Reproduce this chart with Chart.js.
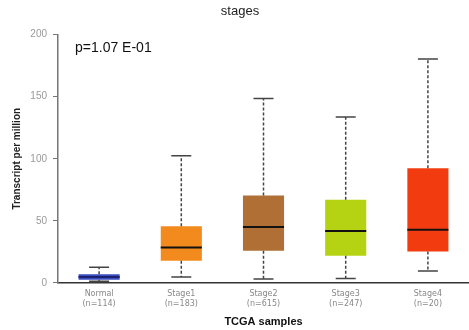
<!DOCTYPE html>
<html><head><meta charset="utf-8">
<script src="https://cdn.jsdelivr.net/npm/chart.js@4/dist/chart.umd.min.js"></script>
<style>html,body{margin:0;padding:0;background:#fff}#wrap{width:469px;height:330px;position:relative}</style>
</head><body><div id="wrap"><canvas id="c" width="469" height="330"></canvas></div>
<script>
const categories = [["Normal","(n=114)"],["Stage1","(n=183)"],["Stage2","(n=615)"],["Stage3","(n=247)"],["Stage4","(n=20)"]];
const whiskerLow = [1.2, 4.8, 3.2, 3.5, 9.6];
const q1 = [2.6, 17.8, 25.9, 21.9, 25.3];
const median = [4.8, 28.5, 45.0, 41.9, 42.9];
const q3 = [7.0, 45.6, 70.4, 67.0, 92.3];
const whiskerHigh = [12.6, 102.4, 148.5, 133.6, 180.3];
const boxColors = ["#3b4cc0", "#f28a1e", "#b06f35", "#b5d312", "#f23c10"];
const yTicks = [0, 50, 100, 150, 200];
const pLabel = "p=1.07 E-01";

const boxPlugin = {
  id: 'boxExtras',
  afterDatasetsDraw(chart) {
    const ctx = chart.ctx, y = chart.scales.y;
    const meta = chart.getDatasetMeta(0);
    ctx.save();
    categories.forEach((c, i) => {
      const bar = meta.data[i];
      const cx = bar.x, hw = bar.width / 2;
      ctx.strokeStyle = '#444'; ctx.lineWidth = 1.5; ctx.setLineDash([3, 2]);
      ctx.beginPath();
      ctx.moveTo(cx, y.getPixelForValue(q3[i])); ctx.lineTo(cx, y.getPixelForValue(whiskerHigh[i]));
      ctx.moveTo(cx, y.getPixelForValue(q1[i])); ctx.lineTo(cx, y.getPixelForValue(whiskerLow[i]));
      ctx.stroke();
      ctx.setLineDash([]);
      ctx.strokeStyle = '#444'; ctx.lineWidth = 1.6;
      ctx.beginPath();
      ctx.moveTo(cx - 10, y.getPixelForValue(whiskerHigh[i])); ctx.lineTo(cx + 10, y.getPixelForValue(whiskerHigh[i]));
      ctx.moveTo(cx - 10, y.getPixelForValue(whiskerLow[i])); ctx.lineTo(cx + 10, y.getPixelForValue(whiskerLow[i]));
      ctx.stroke();
      ctx.strokeStyle = i === 0 ? '#1a2270' : '#111'; ctx.lineWidth = 2;
      ctx.beginPath();
      ctx.moveTo(cx - hw, y.getPixelForValue(median[i])); ctx.lineTo(cx + hw, y.getPixelForValue(median[i]));
      ctx.stroke();
    });
    ctx.fillStyle = '#111';
    ctx.font = '14px "Liberation Sans", Arial, sans-serif';
    ctx.textBaseline = 'middle'; ctx.textAlign = 'left';
    ctx.fillText(pLabel, chart.chartArea.left + 17, chart.chartArea.top + 14);
    ctx.restore();
  }
};

new Chart(document.getElementById('c'), {
  type: 'bar',
  data: {
    labels: categories,
    datasets: [{
      data: q1.map((v, i) => [v, q3[i]]),
      backgroundColor: boxColors,
      borderWidth: 0,
      borderSkipped: false,
      barPercentage: 0.5,
      categoryPercentage: 1.0
    }]
  },
  options: {
    responsive: false,
    animation: false,
    layout: { padding: { top: 0, right: 0, left: 11, bottom: 2 } },
    plugins: {
      legend: { display: false },
      tooltip: { enabled: false },
      title: { display: true, text: 'stages', color: '#222', font: { family: '"Liberation Sans", Arial, sans-serif', size: 13, weight: 'normal' }, padding: { top: 4, bottom: 15 } }
    },
    scales: {
      x: {
        grid: { display: false, drawTicks: false },
        border: { display: true, color: '#333', width: 1.5 },
        ticks: { color: '#888', font: { family: '"DejaVu Sans", sans-serif', size: 8, lineHeight: 1.25 }, padding: 6, maxRotation: 0 },
        title: { display: true, text: 'TCGA samples', color: '#111', font: { family: '"Liberation Sans", Arial, sans-serif', size: 11, weight: 'bold', lineHeight: 1.1 }, padding: { top: 1, bottom: 0 } }
      },
      y: {
        min: 0, max: 200,
        afterBuildTicks(s) { s.ticks = yTicks.map(v => ({ value: v })); },
        afterFit(s) { s.width = 47; },
        grid: { display: true, drawOnChartArea: false, drawTicks: true, tickLength: 5, color: '#777', lineWidth: 1 },
        border: { display: true, color: '#777', width: 1.5 },
        ticks: { color: '#999', font: { family: '"Liberation Sans", Arial, sans-serif', size: 10 }, padding: 6 },
        title: { display: true, text: 'Transcript per million', color: '#222', font: { family: '"Liberation Sans", Arial, sans-serif', size: 10, weight: 'bold' }, padding: { top: 0, bottom: 6 } }
      }
    }
  },
  plugins: [boxPlugin]
});
</script></body></html>
